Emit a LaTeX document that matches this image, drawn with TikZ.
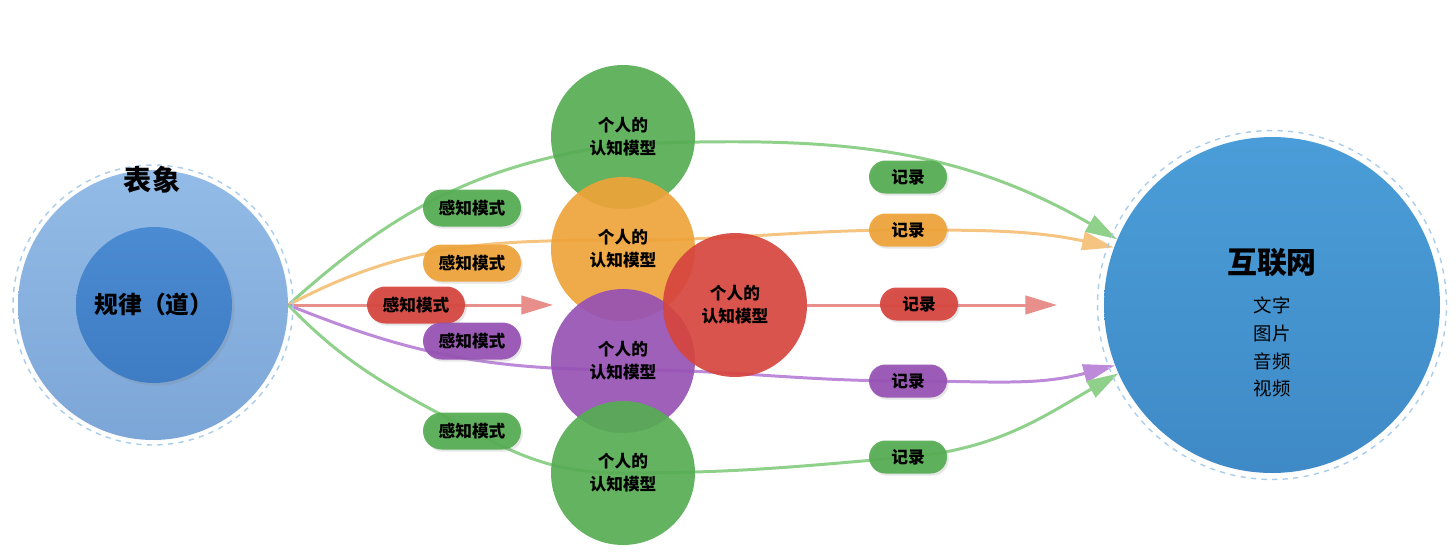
\documentclass[tikz,border=0pt]{standalone}
\usepackage{fontspec}
\setmainfont{Noto Sans CJK SC}
\usetikzlibrary{arrows.meta,shapes.misc,shadows,backgrounds}

\definecolor{surfa}{HTML}{93BBE7}
\definecolor{surfb}{HTML}{7CA6D7}
\definecolor{lawa}{HTML}{4B8BD2}
\definecolor{lawb}{HTML}{3E7CC3}
\definecolor{neta}{HTML}{4A9DD8}
\definecolor{netb}{HTML}{3F8AC6}
\definecolor{ringblue}{HTML}{AACDEC}
\definecolor{mgreen}{HTML}{56AC53}
\definecolor{morange}{HTML}{EEA339}
\definecolor{mred}{HTML}{D6453D}
\definecolor{mpurple}{HTML}{9652B3}
\definecolor{lgreen}{HTML}{8FD08B}
\definecolor{lorange}{HTML}{F6C481}
\definecolor{lred}{HTML}{E98F8B}
\definecolor{lpurple}{HTML}{BD8ADA}

\begin{document}
\begin{tikzpicture}[x=0.02cm,y=-0.02cm,
    model/.style={circle,minimum size=2.88cm,inner sep=0pt,fill=#1,fill opacity=0.92,
      text opacity=1,align=center,font=\bfseries\fontsize{9.5}{13}\selectfont},
    sense/.style={rounded rectangle,minimum width=1.96cm,minimum height=0.74cm,inner sep=0pt,
      fill=#1,fill opacity=0.93,text opacity=1,font=\bfseries\fontsize{9.5}{11}\selectfont,
      drop shadow={opacity=0.2,shadow xshift=1pt,shadow yshift=-1.2pt}},
    rec/.style={sense=#1,minimum width=1.56cm,minimum height=0.66cm},
    link/.style={line width=1.7pt,draw=#1,-{Triangle[length=18pt,width=10.5pt]}},
    ring/.style={draw=ringblue,dashed,line width=0.8pt},
    halo/.style={circular drop shadow={shadow scale=1.015,opacity=0.18,shadow xshift=0pt,shadow yshift=-0.5pt}}]
  \useasboundingbox (0,0) rectangle (1456,558);

  % phenomena and law
  \node[circle,minimum size=5.4cm,top color=surfa,bottom color=surfb,halo] (surface) at (153,305) {};
  \draw[ring] (surface.center) circle [radius=2.8cm];
  \node[font=\bfseries\fontsize{16}{18}\selectfont] (surftitle) at (152,180) {表象};
  \node[circle,minimum size=3.12cm,top color=lawa,bottom color=lawb,
    font=\bfseries\fontsize{13.5}{15}\selectfont,
    drop shadow={opacity=0.2,shadow xshift=1.5pt,shadow yshift=-1.5pt}] (law) at (154,305) {规律（道）};

  % internet
  \node[circle,minimum size=6.72cm,top color=neta,bottom color=netb,halo] (net) at (1272,305) {};
  \draw[ring] (net.center) circle [radius=3.49cm];
  \node[font=\bfseries\fontsize{17}{20}\selectfont] (nettitle) at (1272,263) {互联网};
  \node[align=center,font=\fontsize{10.5}{15.9}\selectfont] (netlist) at (1272,347) {文字\\图片\\音频\\视频};

  % cognitive models
  \node[model=mgreen] (mgreen) at (623,137) {个人的\\认知模型};
  \node[model=morange] (morange) at (623,249) {个人的\\认知模型};
  \node[model=mpurple] (mpurple) at (623,361) {个人的\\认知模型};
  \node[model=mgreen] (mgreen2) at (623,473) {个人的\\认知模型};
  \node[model=mred] (mred) at (735,305) {个人的\\认知模型};

  % perception
  \node[sense=mgreen] (pgreen) at (472,208) {感知模式};
  \node[sense=morange] (porange) at (472,263) {感知模式};
  \node[sense=mred] (pred) at (416,305) {感知模式};
  \node[sense=mpurple] (ppurple) at (472,341) {感知模式};
  \node[sense=mgreen] (pgreen2) at (472,431) {感知模式};

  % records
  \node[rec=mgreen] (rgreen) at (908,177) {记录};
  \node[rec=morange] (rorange) at (908,230) {记录};
  \node[rec=mred] (rred) at (919,304) {记录};
  \node[rec=mpurple] (rpurple) at (908,381) {记录};
  \node[rec=mgreen] (rgreen2) at (908,457) {记录};

  \coordinate (redtip1) at (553,305);
  \coordinate (redtip2) at (1057,305);

  % flows
  \begin{scope}[on background layer]
    \draw[link=lgreen] (surface.east) to[out=42,in=188] ([yshift=-4pt]mgreen.center) to[out=2,in=150] (net.157);
    \draw[link=lorange] (surface.east) to[out=28,in=180] ([yshift=5pt]morange.center)
      to[out=0,in=180] (rorange.center) to[out=0,in=168] (net.160);
    \draw[link=lred] (surface.east) -- (redtip1);
    \draw[link=lred] (mred.east) -- (redtip2);
    \draw[link=lpurple] (surface.east) to[out=-22,in=180] ([yshift=-5pt]mpurple.center)
      to[out=0,in=180] (rpurple.center) to[out=0,in=195] (net.201);
    \draw[link=lgreen] (surface.east) to[out=-46,in=152] (pgreen2.center) to[out=-28,in=180] (mgreen2.center)
      to[out=0,in=185] (rgreen2.center) to[out=5,in=210] (net.204);
  \end{scope}
\end{tikzpicture}
\end{document}
